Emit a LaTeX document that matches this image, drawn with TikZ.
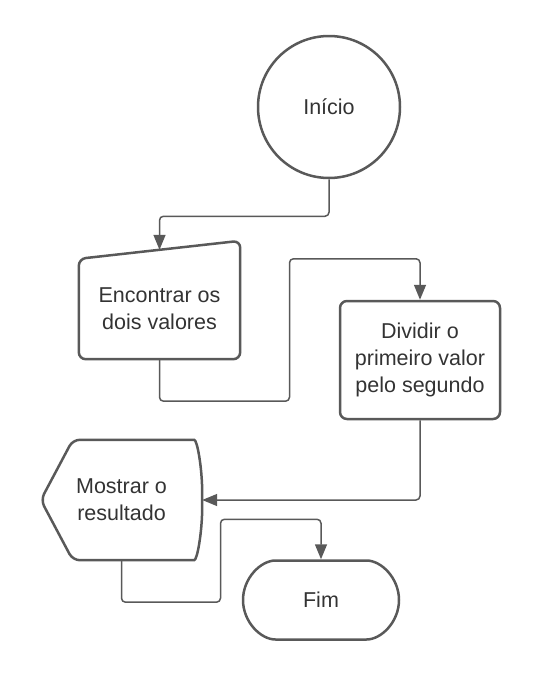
\documentclass[tikz,border=0pt]{standalone}
\usepackage{fontspec}
\setmainfont{Liberation Sans}
\usetikzlibrary{calc,positioning,arrows.meta,shapes.misc}

\begin{document}
\begin{tikzpicture}[x=1pt,y=-1pt]
  % Colors
  \colorlet{linecolor}{black!65}
  \colorlet{textcolor}{black!80}

  % Styles
  \tikzstyle{shape line}=[draw=linecolor,line width=2.5pt,rounded corners=7pt]
  \tikzstyle{flow}=[draw=linecolor,line width=1.5pt,rounded corners=4pt]
  \tikzstyle{flow arrow}=[flow,-{Triangle[length=15pt,width=12pt]}]
  \tikzstyle{flowtext}=[text=textcolor,align=center,inner sep=0pt,
    font=\fontsize{21.5}{27}\selectfont]

  \useasboundingbox (0,0) rectangle (540,680);

  % Nodes
  \node[flowtext,circle,shape line,minimum size=142pt] (inicio) at (329,107) {Início};

  \node[flowtext,minimum width=161pt,minimum height=100pt] (entrada) at (159.5,309) {Encontrar os\\dois valores};
  \draw[shape line] (entrada.south west) -- (entrada.north west)
    -- ([yshift=18pt]entrada.north east) -- (entrada.south east) -- cycle;
  \coordinate (entrada top) at ([yshift=9pt]entrada.north);

  \node[flowtext,rectangle,shape line,minimum width=160pt,minimum height=118pt] (dividir) at (420,360) {Dividir o\\primeiro valor\\pelo segundo};

  \node[flowtext,minimum width=161pt,minimum height=120pt] (display) at (121.5,500) {Mostrar o\\resultado};
  \draw[shape line] (display.west) -- ([xshift=32pt]display.north west)
    -- ($(display.north east)+(-15,0)$)
    .. controls ($(display.north east)+(-5,0)$) and ($(display.east)+(0,-32)$) .. (display.east)
    .. controls ($(display.east)+(0,32)$) and ($(display.south east)+(-5,0)$) .. ($(display.south east)+(-15,0)$)
    -- ([xshift=32pt]display.south west) -- cycle;

  \node[flowtext,rounded rectangle,shape line,minimum width=156pt,minimum height=79pt] (fim) at (321,600) {Fim};

  % Connectors
  \draw[flow arrow] (inicio.south) -- ++(0,37) -| (entrada top);
  \draw[flow arrow] (entrada.south) -- ++(0,42) -- ++(130,0) |- ($(dividir.north)+(0,-41)$) -- (dividir.north);
  \draw[flow arrow] (dividir.south) |- (display.east);
  \draw[flow arrow] (display.south) -- ++(0,42) -- ++(99,0) |- ($(fim.north)+(0,-40)$) -- (fim.north);

\end{tikzpicture}
\end{document}
